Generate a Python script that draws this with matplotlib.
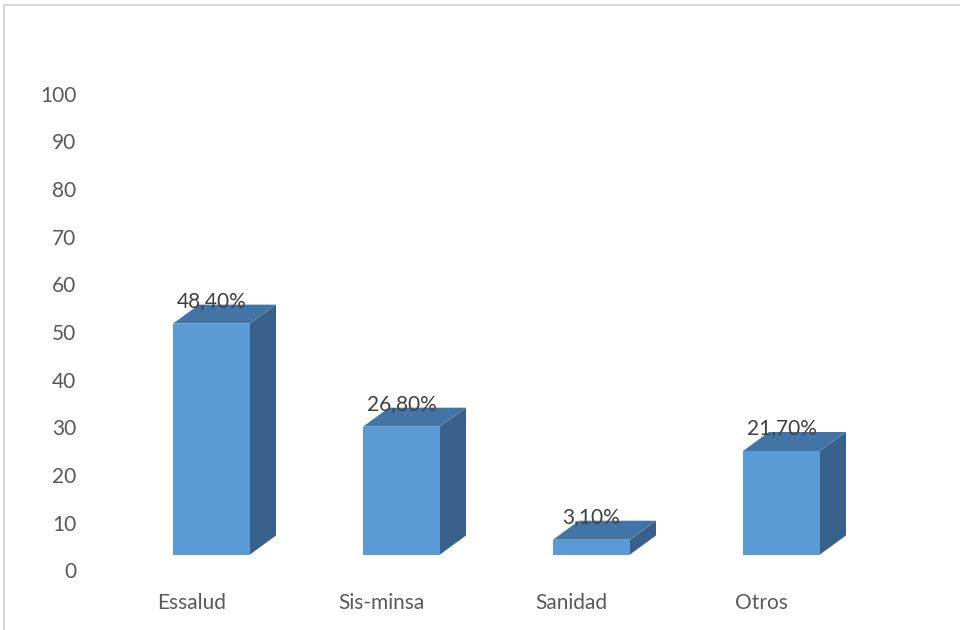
import matplotlib
matplotlib.use("Agg")
import matplotlib.pyplot as plt
from matplotlib.patches import Polygon
from matplotlib.lines import Line2D

categories = ["Essalud", "Sis-minsa", "Sanidad", "Otros"]
values = [48.4, 26.8, 3.1, 21.7]
value_labels = ["48,40%", "26,80%", "3,10%", "21,70%"]
y_ticks = [0, 10, 20, 30, 40, 50, 60, 70, 80, 90, 100]

plt.rcParams["font.family"] = ["Lato", "DejaVu Sans"]

W, H, DPI = 960, 630, 100
fig = plt.figure(figsize=(W / DPI, H / DPI), dpi=DPI)
fig.patch.set_facecolor("white")

ax_left_px, ax_right_px = 115.2, 921.6
ax_bottom_px, ax_top_px = 570.5, 93.5
ax = fig.add_axes([ax_left_px / W, (H - ax_bottom_px) / H,
                   (ax_right_px - ax_left_px) / W, (ax_bottom_px - ax_top_px) / H])

px_per_x = 190.0
xmin = -(211.5 - ax_left_px) / px_per_x
xmax = xmin + (ax_right_px - ax_left_px) / px_per_x
ax.set_xlim(xmin, xmax)
ax.set_ylim(0, 100)
px_per_y = (ax_bottom_px - ax_top_px) / 100.0

# 3D bar geometry (depth offset up and to the right)
bar_w = 77 / px_per_x
depth_x = 26 / px_per_x
depth_y = 19 / px_per_y
base = 16 / px_per_y

front_c = "#5B9BD5"
top_c = "#4275A6"
side_c = "#37618A"

for i, v in enumerate(values):
    x0 = i - bar_w / 2
    x1 = i + bar_w / 2
    y0 = base
    y1 = base + v
    side = Polygon([(x1, y0), (x1 + depth_x, y0 + depth_y),
                    (x1 + depth_x, y1 + depth_y), (x1, y1)],
                   closed=True, facecolor=side_c, edgecolor="none", zorder=2)
    top = Polygon([(x0, y1), (x1, y1), (x1 + depth_x, y1 + depth_y),
                   (x0 + depth_x, y1 + depth_y)],
                  closed=True, facecolor=top_c, edgecolor="none", zorder=2)
    front = Polygon([(x0, y0), (x1, y0), (x1, y1), (x0, y1)],
                    closed=True, facecolor=front_c, edgecolor="none", zorder=3)
    for p in (side, top, front):
        ax.add_patch(p)
    ax.text(i, y1 + depth_y + 0.8, value_labels[i], ha="center", va="center",
            fontsize=15, color="#404040", zorder=5)

ax.set_yticks(y_ticks)
ax.set_yticklabels([str(t) for t in y_ticks])
ax.tick_params(axis="y", length=0, pad=28, labelsize=15, labelcolor="#595959")

ax.set_xticks([i - 20 / px_per_x for i in range(len(categories))])
ax.set_xticklabels(categories)
ax.tick_params(axis="x", length=0, pad=16, labelsize=15, labelcolor="#595959")

for s in ax.spines.values():
    s.set_visible(False)
ax.patch.set_alpha(0)

# chart area border (top and left edges)
border_c = "#D9D9D9"
fig.add_artist(Line2D([3.5 / W, 1.0], [1 - 5 / H, 1 - 5 / H],
                      transform=fig.transFigure, color=border_c, lw=1.5))
fig.add_artist(Line2D([3.5 / W, 3.5 / W], [0.0, 1 - 5 / H],
                      transform=fig.transFigure, color=border_c, lw=1.5))

fig.savefig("out.png", dpi=DPI, facecolor="white")
